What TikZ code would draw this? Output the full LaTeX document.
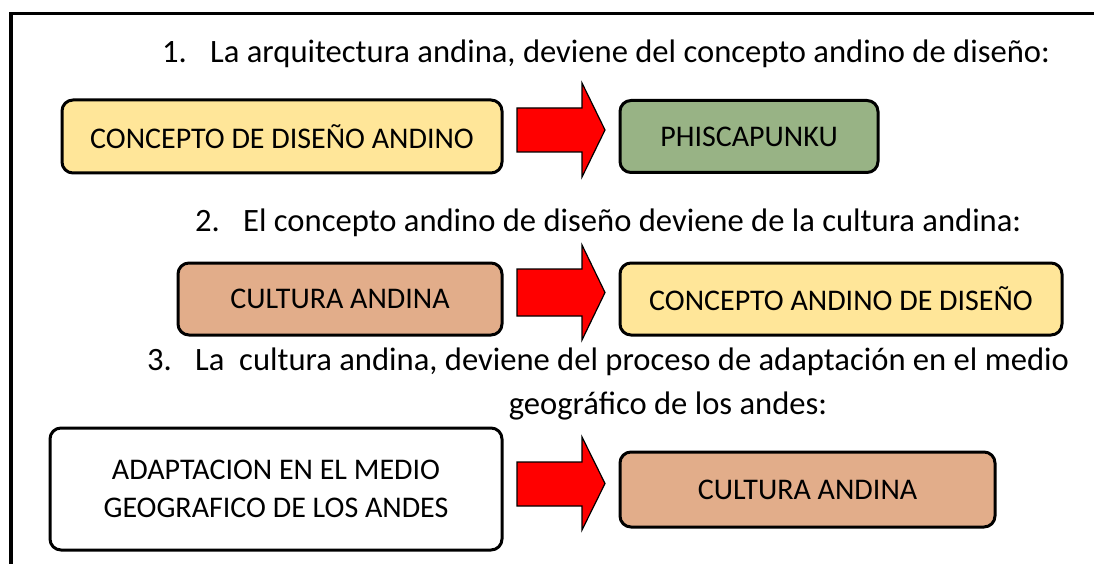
\documentclass[tikz,border=0pt]{standalone}
\usepackage{fontspec}
\setmainfont{Carlito}
\definecolor{yel}{HTML}{FFE699}
\definecolor{grn}{HTML}{98B385}
\definecolor{tanc}{HTML}{E2AD8A}
\begin{document}
\begin{tikzpicture}[x=1pt,y=-1pt,
  box/.style={draw=black, line width=3pt, rounded corners=11pt, inner sep=0pt, align=center, font=\fontsize{30}{38}\selectfont},
  heading/.style={font=\fontsize{32.6}{38}\selectfont, inner sep=0pt, anchor=base west},
  barrow/.style={fill=red, draw=black, line width=1.2pt, line join=miter}]
\useasboundingbox (0,0) rectangle (1094,564);
\draw[line width=3.5pt] (11,564) -- (11,13.5) -- (1094,13.5);
% headings
\node[heading] (n1) at (162,63) {1.};
\node[heading] (h1) at (210,63) {La arquitectura andina, deviene del concepto andino de diseño:};
\node[heading] (n2) at (195,231) {2.};
\node[heading] (h2) at (243,231) {El concepto andino de diseño deviene de la cultura andina:};
\node[heading] (n3) at (147,370) {3.};
\node[heading] (h3) at (195,370) {La\ \ cultura andina, deviene del proceso de adaptación en el medio};
\node[heading, anchor=base] (h3b) at (668,414) {geográfico de los andes:};
% row 1
\node[box, fill=yel, minimum width=440, minimum height=73] (c1) at (282,136.5) {CONCEPTO DE DISEÑO ANDINO};
\node[box, fill=grn, minimum width=258, minimum height=72] (p1) at (749,136.5) {PHISCAPUNKU};
\draw[barrow] (517,108) -- (582,108) -- (582,83) -- (605,130) -- (582,177) -- (582,152) -- (517,152) -- cycle;
% row 2
\node[box, fill=tanc, minimum width=324, minimum height=72] (c2) at (340,299) {CULTURA ANDINA};
\node[box, fill=yel, minimum width=442, minimum height=72] (p2) at (841,299) {CONCEPTO ANDINO DE DISEÑO};
\draw[barrow] (517,269) -- (582,269) -- (582,245) -- (605,292.5) -- (582,340) -- (582,316) -- (517,316) -- cycle;
% row 3
\node[box, fill=white, minimum width=452, minimum height=122] (c3) at (276,489) {ADAPTACION EN EL MEDIO\\GEOGRAFICO DE LOS ANDES};
\node[box, fill=tanc, minimum width=375, minimum height=75] (p3) at (807.5,489.5) {CULTURA ANDINA};
\draw[barrow] (517,462) -- (582,462) -- (582,437) -- (605,483.5) -- (582,530) -- (582,506) -- (517,506) -- cycle;
\end{tikzpicture}
\end{document}
